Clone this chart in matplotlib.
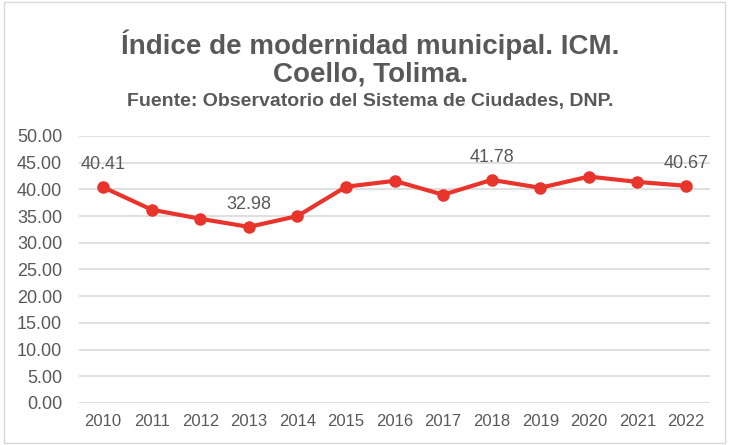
import matplotlib.pyplot as plt
from matplotlib.patches import Rectangle

years = [2010, 2011, 2012, 2013, 2014, 2015, 2016, 2017, 2018, 2019, 2020, 2021, 2022]
icm = [40.41, 36.2, 34.5, 32.98, 35.0, 40.5, 41.6, 39.0, 41.78, 40.3, 42.4, 41.4, 40.67]
labeled_years = [2010, 2013, 2018, 2022]

plt.rcParams["font.family"] = ["Liberation Sans", "DejaVu Sans"]
gray = "#595959"

fig = plt.figure(figsize=(7.3, 4.45), dpi=100)
ax = fig.add_axes([0.108, 0.0944, 0.865, 0.6])

x = list(range(len(years)))
ax.plot(x, icm, color="#E8342B", linewidth=3, marker="o", markersize=8, zorder=3)

for i, (yr, val) in enumerate(zip(years, icm)):
    if yr in labeled_years:
        ax.annotate(f"{val:.2f}", (i, val), xytext=(0, 10), textcoords="offset points",
                    ha="center", va="bottom", fontsize=13, color=gray)

ax.set_xlim(-0.5, len(years) - 0.5)
ax.set_ylim(0, 50)
ax.set_yticks(range(0, 51, 5))
ax.set_yticklabels([f"{v:.2f}" for v in range(0, 51, 5)])
ax.set_xticks(x)
ax.set_xticklabels([str(y) for y in years])
ax.tick_params(axis="both", length=0, labelsize=12, colors=gray)
ax.tick_params(axis="y", pad=12, labelsize=13)
ax.tick_params(axis="x", pad=8)
ax.grid(axis="y", color="#D9D9D9", linewidth=1.2)
ax.set_axisbelow(True)
for s in ax.spines.values():
    s.set_visible(False)

fig.text(0.507, 0.9, "Índice de modernidad municipal. ICM.", ha="center", va="center",
         fontsize=20, fontweight="bold", color=gray)
fig.text(0.507, 0.833, "Coello, Tolima.", ha="center", va="center",
         fontsize=20, fontweight="bold", color=gray)
fig.text(0.507, 0.772, "Fuente: Observatorio del Sistema de Ciudades, DNP.", ha="center", va="center",
         fontsize=14, fontweight="bold", color=gray)

fig.patches.append(Rectangle((4 / 730, 2 / 445), 721 / 730, 441 / 445, transform=fig.transFigure,
                             fill=False, edgecolor="#D9D9D9", linewidth=1))

fig.savefig("out.png", dpi=100)
